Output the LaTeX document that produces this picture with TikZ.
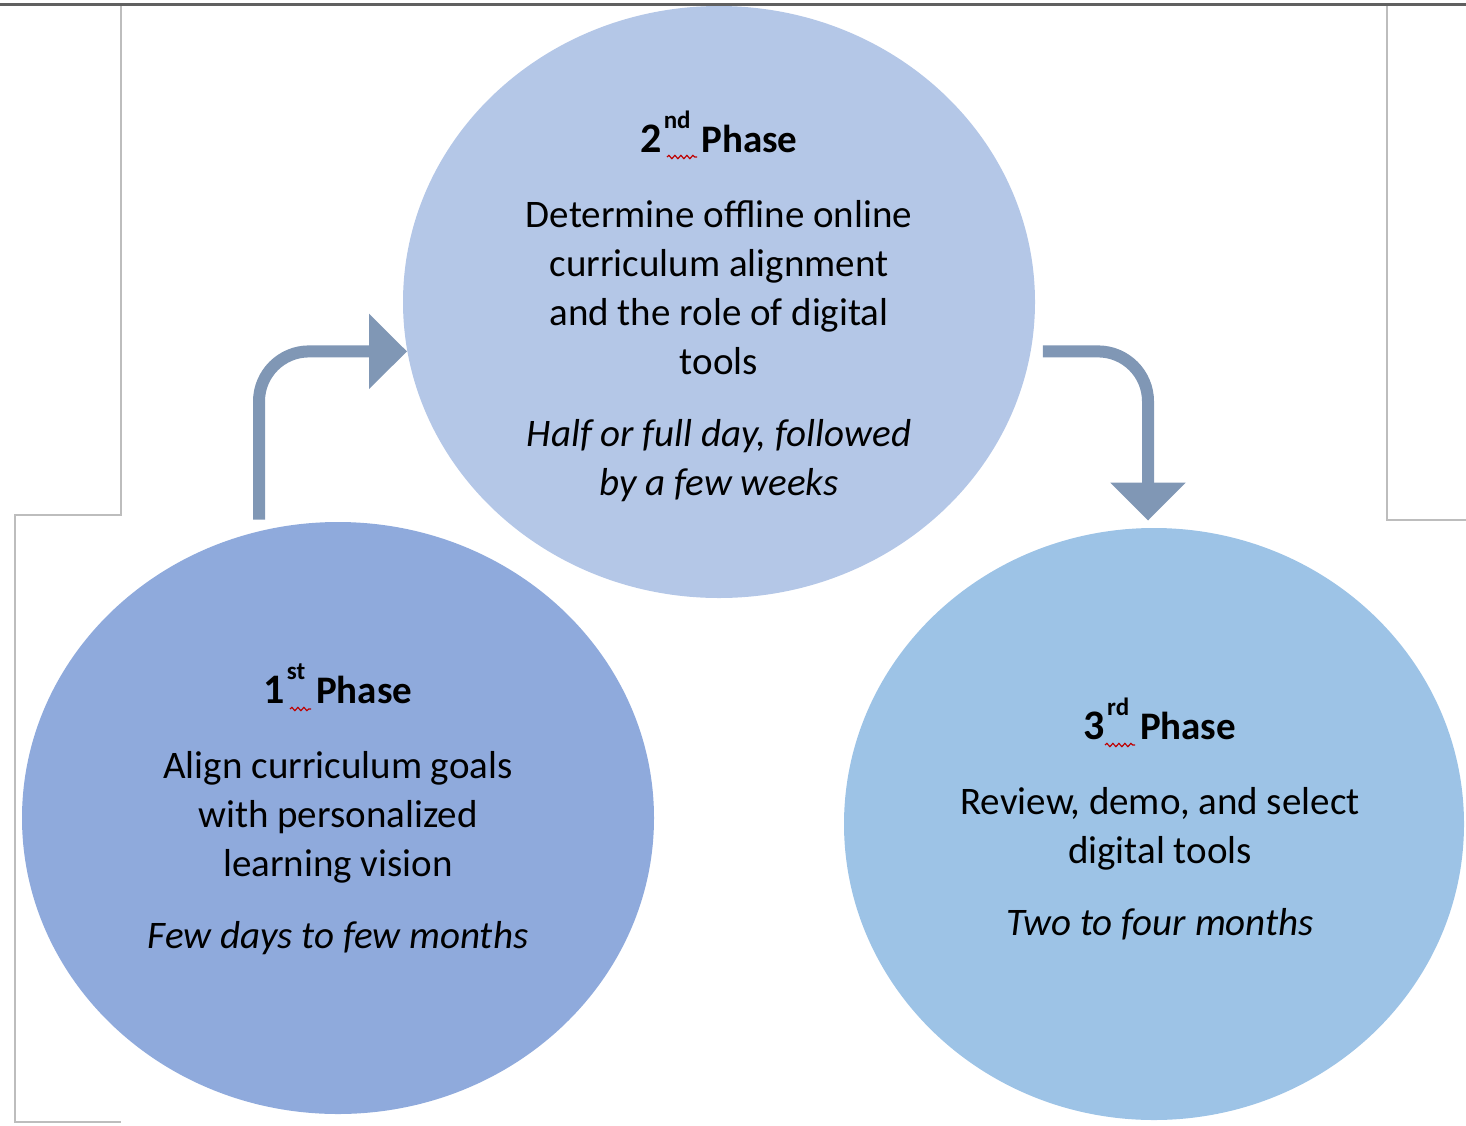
\documentclass[tikz,border=0pt]{standalone}
\usepackage{fontspec}
\setmainfont{Carlito}
\usetikzlibrary{shapes.geometric,arrows.meta,decorations.pathmorphing}

\definecolor{phaseone}{HTML}{8FAADC}
\definecolor{phasetwo}{HTML}{B4C7E7}
\definecolor{phasethree}{HTML}{9DC3E6}
\definecolor{flowgray}{HTML}{8097B5}
\definecolor{rulegray}{HTML}{BDBDBD}
\definecolor{topgray}{HTML}{606060}

% ordinal with a raised suffix, then the word Phase
\newcommand{\phasehead}[2]{\textbf{{\fontsize{21}{24.5}\selectfont #1}\kern1pt\raisebox{0.6em}{\fontsize{12.5}{12.5}\selectfont #2}\ \kern1pt Phase}}

\begin{document}
\begin{tikzpicture}[x=0.5pt,y=-0.5pt,
  phase/.style={ellipse, draw=none, inner sep=0pt, minimum width=316pt, minimum height=296pt},
  txt/.style={align=center, inner sep=0pt, anchor=base, font=\fontsize{19.5}{24.5}\selectfont},
  flow/.style={line width=6pt, flowgray, rounded corners=25pt, -{Triangle[width=36.5pt,length=19pt]}},
  frame/.style={rulegray, line width=0.8pt},
  squig/.style={red!75!black, line width=0.6pt, decorate, decoration={snake, amplitude=0.8pt, segment length=3pt}}
]
  \useasboundingbox (0,0) rectangle (1466,1125);

  % page frames behind the circles
  \draw[frame] (121,5) -- (121,515) -- (15,515) -- (15,1122) -- (121,1122);
  \draw[frame] (1387,5) -- (1387,520) -- (1466,520);

  % the three phases
  \node[phase, fill=phasetwo] (p2) at (719,302) {};
  \node[phase, fill=phaseone] (p1) at (338,818) {};
  \node[phase, fill=phasethree, minimum width=310pt] (p3) at (1154,824) {};

  \draw[topgray, line width=1.5pt] (0,4.5) -- (1466,4.5);

  % texts (anchored on their last line)
  \node[txt] (t2) at (719,495) {\phasehead{2}{nd}\\[13pt]
    Determine offline online\\curriculum alignment\\and the role of digital\\tools\\[11.5pt]
    \textit{Half or full day, followed}\\\textit{by a few weeks}};
  \node[txt] (t1) at (338,948) {\phasehead{1}{st}\\[13pt]
    Align curriculum goals\\with personalized\\learning vision\\[11.5pt]
    \textit{Few days to few months}};
  \node[txt] (t3) at (1160,935) {\phasehead{3}{rd}\\[13pt]
    Review, demo, and select\\digital tools\\[11.5pt]
    \textit{Two to four months}};

  % spelling marks under the ordinals
  \draw[squig] (290,709) -- (311,709);
  \draw[squig] (667,157) -- (697,157);
  \draw[squig] (1105,745) -- (1135,745);

  % arrows between phases
  \draw[flow] ([xshift=-39.5pt,yshift=1pt]p1.north) |- (p2.189);
  \draw[flow] ([xshift=6pt]p2.351) -| ([xshift=-3pt,yshift=3.5pt]p3.north);
\end{tikzpicture}
\end{document}
